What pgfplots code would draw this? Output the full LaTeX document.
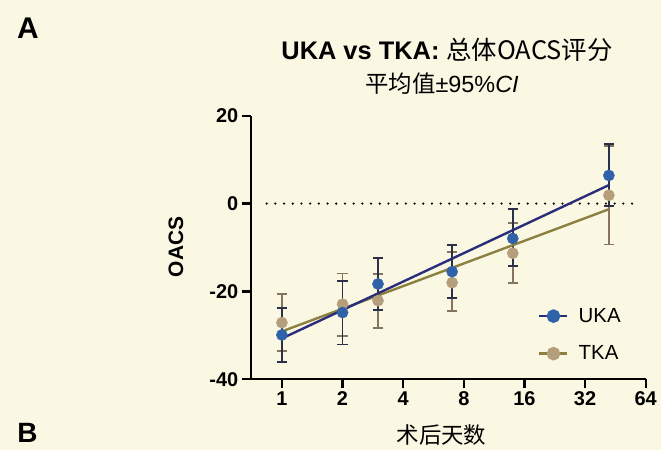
\documentclass[border=0pt]{standalone}
\usepackage{fontspec}
\setmainfont{Liberation Sans}
\newfontfamily\cjk{Noto Sans CJK SC}
\usepackage{pgfplots}
\pgfplotsset{compat=1.18}
\usepackage{pgfplotstable}

\definecolor{bgc}{HTML}{FAF7E3}
\definecolor{ukam}{HTML}{2F62A8}
\definecolor{ukal}{HTML}{2A2D7A}
\definecolor{ukae}{HTML}{2B3048}
\definecolor{tkam}{HTML}{B59E7C}
\definecolor{tkal}{HTML}{8C8040}
\definecolor{tkae}{HTML}{857560}

\pgfplotstableread{
x y ep em
1 -29.9 6.1 6.2
2 -24.8 7.2 7.3
3 -18.3 5.9 5.9
7 -15.5 6.1 6.0
14 -7.95 6.65 6.35
42 6.4 7.1 6.9
}\uka

\pgfplotstableread{
x y ep em
1 -27.1 6.5 6.4
2 -22.9 7.0 7.2
3 -22.1 6.0 6.2
7 -18.0 7.0 6.5
14 -11.3 6.8 6.8
42 1.9 11.2 11.2
}\tka

\begin{document}
\begin{tikzpicture}
\path[use as bounding box] (0,0) rectangle (661bp,450bp);
\fill[bgc] (0,0) rectangle (661bp,450bp);

\node[font=\bfseries\fontsize{30}{32}\selectfont] at (28bp,421.7bp) {A};
\node[font=\bfseries\fontsize{28}{30}\selectfont, inner sep=0pt] at (27.5bp,17bp) {B};
\node[font=\fontsize{25.5}{28}\selectfont] at (447bp,400bp) {\textbf{UKA vs TKA:} {\cjk 总体OACS评分}};
\node[font=\fontsize{23.5}{26}\selectfont] at (442bp,366bp) {{\cjk 平均值}±95\%\textit{CI}};

\begin{axis}[
  at={(250.7bp,70.7bp)}, anchor=south west,
  scale only axis, width=395bp, height=263.6bp,
  xmode=log, log basis x=2, xmin=0.7, xmax=64,
  ymin=-40, ymax=20,
  axis lines=left, axis line style={-, line width=2.3pt, black},
  xtick={1,2,4,8,16,32,64}, xticklabels={1,2,4,8,16,32,64},
  ytick={-40,-20,0,20}, yticklabels={-40,-20,0,20},
  xminorticks=false,
  tick align=outside, major tick length=9bp,
  tick style={line width=2.3pt, black},
  ticklabel style={font=\bfseries\fontsize{20}{22}\selectfont},
  /pgf/number format/assume math mode=true,
  xlabel={{\cjk 术后天数}},
  xlabel style={font=\fontsize{22.5}{24}\selectfont, at={(axis description cs:0.483,0)}, anchor=center, yshift=-56bp},
  ylabel={OACS},
  ylabel style={font=\bfseries\fontsize{21}{23}\selectfont, at={(axis description cs:-0.189,0.502)}, anchor=center},
  clip=false,
  legend style={at={(0.72,0.285)}, anchor=north west, draw=none, fill=none,
    font=\fontsize{20.5}{22}\selectfont, row sep=18bp, legend cell align=left,
    /tikz/every odd column/.append style={column sep=8bp}},
  legend image code/.code={\draw[mark repeat=2,mark phase=2] plot coordinates {(0bp,0bp) (14bp,0bp) (28bp,0bp)};},
]
% zero line
\addplot[forget plot, black, line width=2.4pt, line cap=round, dash pattern=on 0pt off 8.7bp] coordinates {(0.84,0) (60,0)};

% TKA error bars + markers
\addplot[forget plot, tkae, only marks, mark=none,
  error bars/.cd, y dir=both, y explicit,
  error bar style={tkae, line width=1.8pt},
  error mark options={tkae, rotate=90, mark size=5.2bp, line width=1.8pt}]
  table[x=x, y=y, y error plus=ep, y error minus=em] {\tka};
\addplot[forget plot, only marks, mark=*, mark size=5.6bp, mark options={fill=tkam, draw=tkam}]
  table[x=x, y=y] {\tka};

% UKA error bars + markers
\addplot[forget plot, ukae, only marks, mark=none,
  error bars/.cd, y dir=both, y explicit,
  error bar style={ukae, line width=1.8pt},
  error mark options={ukae, rotate=90, mark size=5.2bp, line width=1.8pt}]
  table[x=x, y=y, y error plus=ep, y error minus=em] {\uka};
\addplot[forget plot, only marks, mark=*, mark size=5.6bp, mark options={fill=ukam, draw=ukam}]
  table[x=x, y=y] {\uka};

% fit lines
\addplot[forget plot, tkal, line width=2.4pt] coordinates {(1,-29.1) (42,-1.3)};
\addplot[forget plot, ukal, line width=2.4pt] coordinates {(1,-30.7) (42,4.2)};

\addlegendimage{ukal, line width=2.4pt, mark=*, mark size=5.6bp, mark options={fill=ukam, draw=ukam}}
\addlegendentry{UKA}
\addlegendimage{tkal, line width=2.4pt, mark=*, mark size=5.6bp, mark options={fill=tkam, draw=tkam}}
\addlegendentry{TKA}
\end{axis}
\end{tikzpicture}
\end{document}
